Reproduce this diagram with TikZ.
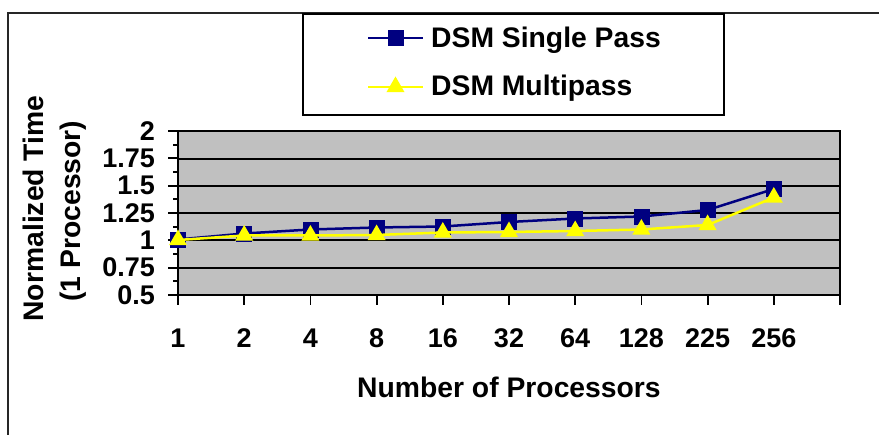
\documentclass[tikz,border=0pt]{standalone}
\usepackage{fontspec}
\setmainfont{Liberation Sans}
\usetikzlibrary{shapes.geometric}
\definecolor{navy}{HTML}{000080}
\definecolor{plotgray}{HTML}{C0C0C0}
\definecolor{yel}{HTML}{FFFF00}
\begin{document}
\begin{tikzpicture}[x=1pt,y=-1pt,
  bigtxt/.style={font=\bfseries\fontsize{28.3}{30}\selectfont, inner sep=0pt},
  ticktxt/.style={font=\bfseries\fontsize{27}{30}\selectfont, inner sep=0pt},
  sqmark/.style={rectangle, fill=navy, draw=navy, line width=0.5pt, minimum size=15pt, inner sep=0pt},
  trimark/.style={regular polygon, regular polygon sides=3, fill=yel, draw=none, minimum size=21pt, inner sep=0pt},
  navyline/.style={draw=navy, line width=2.5pt, line join=round},
  yelline/.style={draw=yel, line width=2.5pt, line join=round},
  gridline/.style={draw=black, line width=2pt},
  framestyle/.style={draw=black!85, line width=2pt},
  tickline/.style={draw=black, line width=1.8pt}]
\useasboundingbox (0,0) rectangle (879,435);
% outer frame (only left and top visible)
\coordinate (fbl) at (8,435);
\coordinate (ftl) at (8,13);
\coordinate (ftr) at (879,13);
\draw[framestyle] (fbl) -- (ftl) -- (ftr);
% plot area
\coordinate (pa) at (178,131);
\coordinate (pb) at (840,295);
\fill[plotgray] (pa) rectangle (pb);
\foreach \yy in {159,186.3,213.3,240.3,268} {
  \draw[gridline] (178,\yy) -- (840,\yy);
}
\draw[gridline] (pa) rectangle (pb);
\draw[draw=black, line width=2.6pt] (178,131) -- (178,295) -- (840,295);
% y ticks and labels
\foreach \yy/\lab in {131/2,158.3/1.75,185.7/1.5,213/1.25,240.3/1,267.7/0.75,295/0.5} {
  \draw[tickline] (168,\yy) -- (178,\yy);
  \node[ticktxt, anchor=east] (yl\lab) at (155,\yy) {\lab};
}
\foreach \yy in {144.7,172,199.3,226.7,254,281.3} {
  \draw[tickline] (173,\yy) -- (178,\yy);
}
% x ticks and labels
\foreach \xx in {178,244.2,310.4,376.6,442.8,509,575.2,641.4,707.6,773.8,840} {
  \draw[tickline] (\xx,295) -- (\xx,305);
}
\foreach \xx/\lab in {178/1,244.2/2,310.4/4,376.6/8,442.8/16,509/32,575.2/64,641.4/128,707.6/225,773.8/256} {
  \node[ticktxt, anchor=base] (xl\lab) at (\xx,348) {\lab};
}
% axis titles
\node[bigtxt, anchor=base] (xtitle) at (509,398) {Number of Processors};
\node[bigtxt, anchor=base, rotate=90] (yt1) at (43,208.5) {Normalized Time};
\node[bigtxt, anchor=base, rotate=90] (yt2) at (80,211) {(1 Processor)};
% data: single pass
\coordinate (a1) at (178,239.5);
\coordinate (a2) at (244.2,233.5);
\coordinate (a3) at (310.4,229.5);
\coordinate (a4) at (376.6,227.5);
\coordinate (a5) at (442.8,226.5);
\coordinate (a6) at (509,222);
\coordinate (a7) at (575.2,218.5);
\coordinate (a8) at (641.4,216.5);
\coordinate (a9) at (707.6,210);
\coordinate (a10) at (773.8,189);
\draw[navyline] (a1) -- (a2) -- (a3) -- (a4) -- (a5) -- (a6) -- (a7) -- (a8) -- (a9) -- (a10);
\foreach \i in {1,...,10} { \node[sqmark] (sa\i) at (a\i) {}; }
% data: multipass
\coordinate (b1) at (178,240);
\coordinate (b2) at (244.2,235.5);
\coordinate (b3) at (310.4,235.5);
\coordinate (b4) at (376.6,235);
\coordinate (b5) at (442.8,232.5);
\coordinate (b6) at (509,232);
\coordinate (b7) at (575.2,231);
\coordinate (b8) at (641.4,229.5);
\coordinate (b9) at (707.6,225);
\coordinate (b10) at (773.8,197.5);
\draw[yelline] (b1) -- (b2) -- (b3) -- (b4) -- (b5) -- (b6) -- (b7) -- (b8) -- (b9) -- (b10);
\foreach \i in {1,...,10} { \node[trimark] (tb\i) at (b\i) {}; }
% legend
\coordinate (la) at (303,14);
\coordinate (lb) at (724,115);
\draw[draw=black, line width=1.8pt, fill=white] (la) rectangle (lb);
\coordinate (l1a) at (368,38);
\coordinate (l1b) at (423,38);
\draw[navyline] (l1a) -- (l1b);
\node[sqmark] (lm1) at (395.5,38) {};
\node[bigtxt, anchor=base west] (lt1) at (431,48) {DSM Single Pass};
\coordinate (l2a) at (368,87);
\coordinate (l2b) at (423,87);
\draw[yelline] (l2a) -- (l2b);
\node[trimark] (lm2) at (395.5,87) {};
\node[bigtxt, anchor=base west] (lt2) at (431,96) {DSM Multipass};
\end{tikzpicture}
\end{document}
